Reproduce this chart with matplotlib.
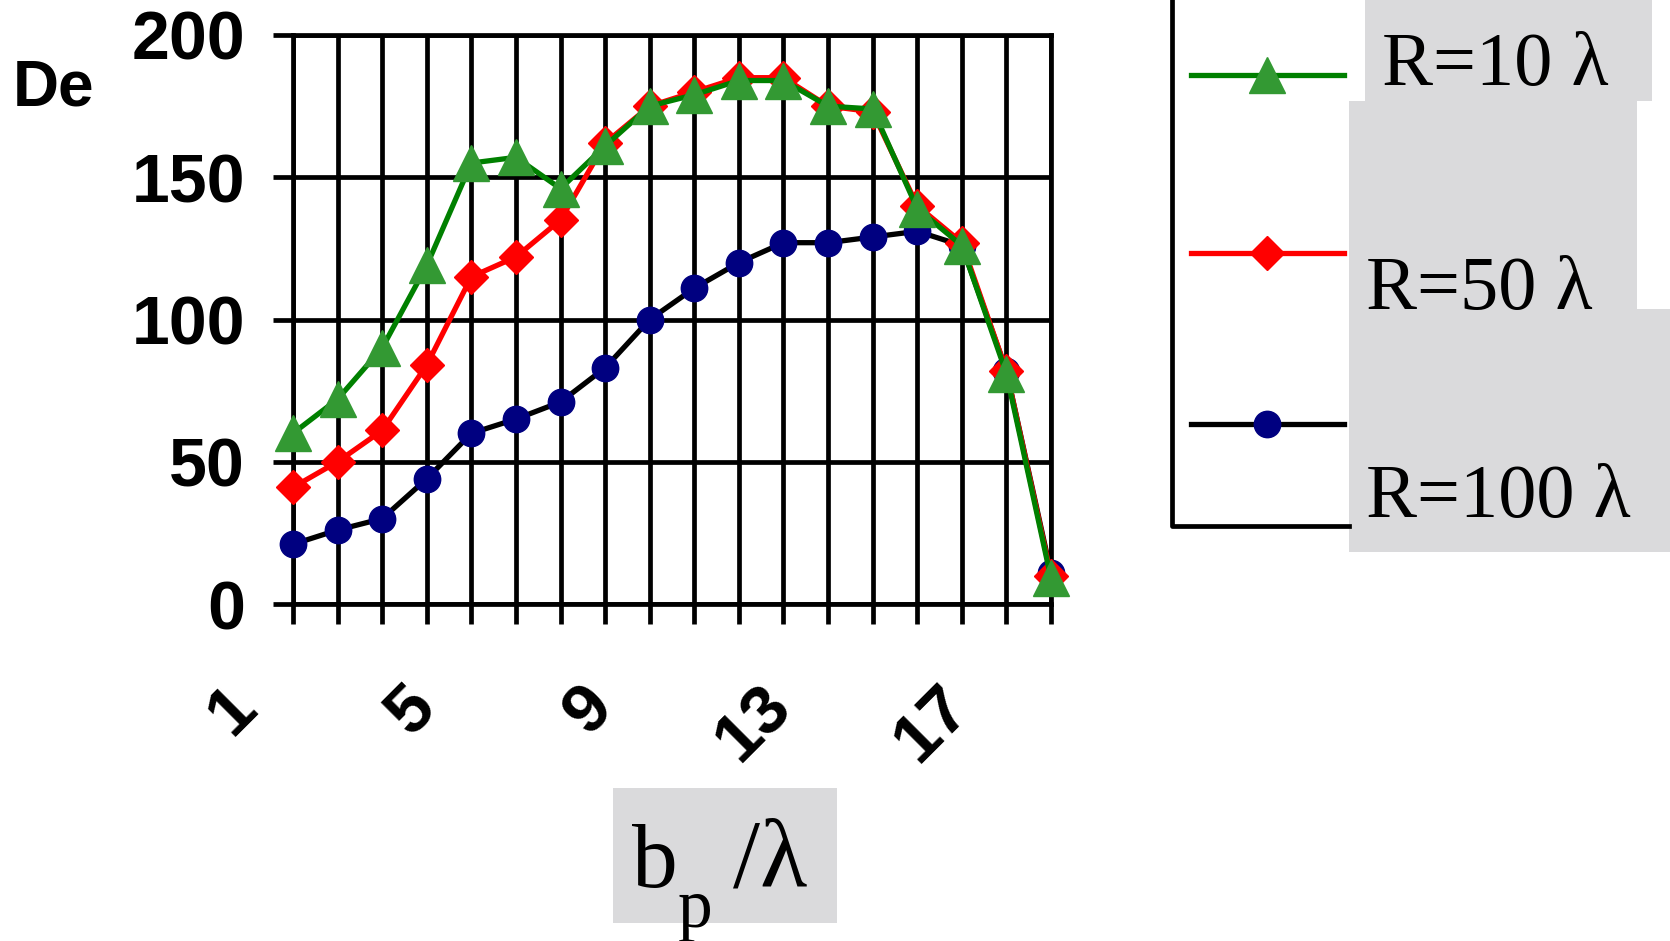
import matplotlib
matplotlib.use("Agg")
import matplotlib.pyplot as plt
import matplotlib.transforms as mtransforms
from matplotlib.lines import Line2D
from matplotlib.patches import Rectangle

# 数据
x = list(range(1, 19))
r10 = [60, 72, 90, 119, 155, 157, 146, 161, 175, 179, 184, 184, 175, 174, 139, 126, 81, 9]
r50 = [41, 50, 61, 84, 115, 122, 135, 162, 175, 180, 185, 185, 175, 173, 140, 127, 82, 10]
r100 = [21, 26, 30, 44, 60, 65, 71, 83, 100, 111, 120, 127, 127, 129, 131, 126, 82, 11]
shown_ticks = [1, 5, 9, 13, 17]
yticks = [0, 50, 100, 150, 200]
series_labels = ["R=10 λ", "R=50 λ", "R=100 λ"]

W, H = 1670, 941
sans = "Liberation Sans"
serif = "Liberation Serif"
marble = "#dadadc"


def fx(px):
    return px / W


def fy(py):
    return 1 - py / H


fig = plt.figure(figsize=(W / 100, H / 100), dpi=100)
ax = fig.add_axes([fx(293), fy(604), fx(1051) - fx(293), fy(35) - fy(604)])

styles = [
    dict(color="#008000", marker="^", ms=26, mfc="#339933", mec="#339933", zorder=5),
    dict(color="#ff0000", marker="D", ms=17, mfc="#ff0000", mec="#ff0000", zorder=4),
    dict(color="black", marker="o", ms=19, mfc="#000080", mec="#000080", zorder=3),
]
for ys, st in zip([r10, r50, r100], styles):
    ax.plot(x, ys, lw=3.8, clip_on=False, **st)

ax.set_xlim(1, 18)
ax.set_ylim(0, 200)
ax.set_xticks(x)
ax.set_xticklabels([str(v) if v in shown_ticks else "" for v in x])
ax.set_yticks(yticks)
ax.set_yticklabels([str(v) for v in yticks])
ax.grid(True, color="black", lw=3.4)
ax.set_axisbelow(True)
for s in ax.spines.values():
    s.set_linewidth(3.4)
    s.set_color("black")

ax.tick_params(axis="both", length=14.5, width=3.4, color="black")
ax.tick_params(axis="y", pad=20)
ax.tick_params(axis="x", pad=36)
for lab in ax.get_yticklabels():
    lab.set_fontsize(49)
    lab.set_fontweight("bold")
    lab.set_family(sans)
offset = mtransforms.ScaledTranslation(-0.24, 0, fig.dpi_scale_trans)
for lab in ax.get_xticklabels():
    lab.set_fontsize(50)
    lab.set_fontweight("bold")
    lab.set_family(sans)
    lab.set_rotation(45)
    lab.set_ha("right")
    lab.set_va("top")
    lab.set_transform(lab.get_transform() + offset)

fig.text(fx(13), fy(106), "De", fontsize=46, fontweight="bold", family=sans,
         ha="left", va="baseline")

# x轴标题（带底纹框）
fig.add_artist(Rectangle((fx(613), fy(923)), fx(837) - fx(613), fy(788) - fy(923),
                         transform=fig.transFigure, facecolor=marble,
                         edgecolor="none"))
fig.text(fx(632), fy(887), "b", fontsize=66, family=serif, ha="left", va="baseline")
fig.text(fx(678), fy(927), "p", fontsize=50, family=serif, ha="left", va="baseline")
fig.text(fx(733), fy(887), "/λ", fontsize=70, family=serif, ha="left", va="baseline")

# 图例
fig.add_artist(Line2D([fx(1172), fx(1172), fx(1349)], [fy(-5), fy(526), fy(526)],
                      transform=fig.transFigure, color="black", lw=3.4))
boxes = [(1365, 0, 1652, 101), (1349, 101, 1637, 343), (1349, 309, 1670, 552)]
for x0, y0, x1, y1 in boxes:
    fig.add_artist(Rectangle((fx(x0), fy(y1)), fx(x1) - fx(x0), fy(y0) - fy(y1),
                             transform=fig.transFigure, facecolor=marble,
                             edgecolor="none"))
legend_y = [75, 253, 424]
for yy, st in zip(legend_y, styles):
    st = dict(st)
    st.pop("zorder")
    fig.add_artist(Line2D([fx(1191), fx(1344)], [fy(yy), fy(yy)],
                          transform=fig.transFigure, lw=3.8, color=st["color"]))
    fig.add_artist(Line2D([fx(1267)], [fy(yy)], transform=fig.transFigure,
                          lw=0, **st))
text_pos = [(1382, 85), (1366, 309), (1366, 517)]
for lab, (px, py) in zip(series_labels, text_pos):
    fig.text(fx(px), fy(py), lab, fontsize=55, family=serif, ha="left", va="baseline")

fig.savefig("out.png", dpi=100)
